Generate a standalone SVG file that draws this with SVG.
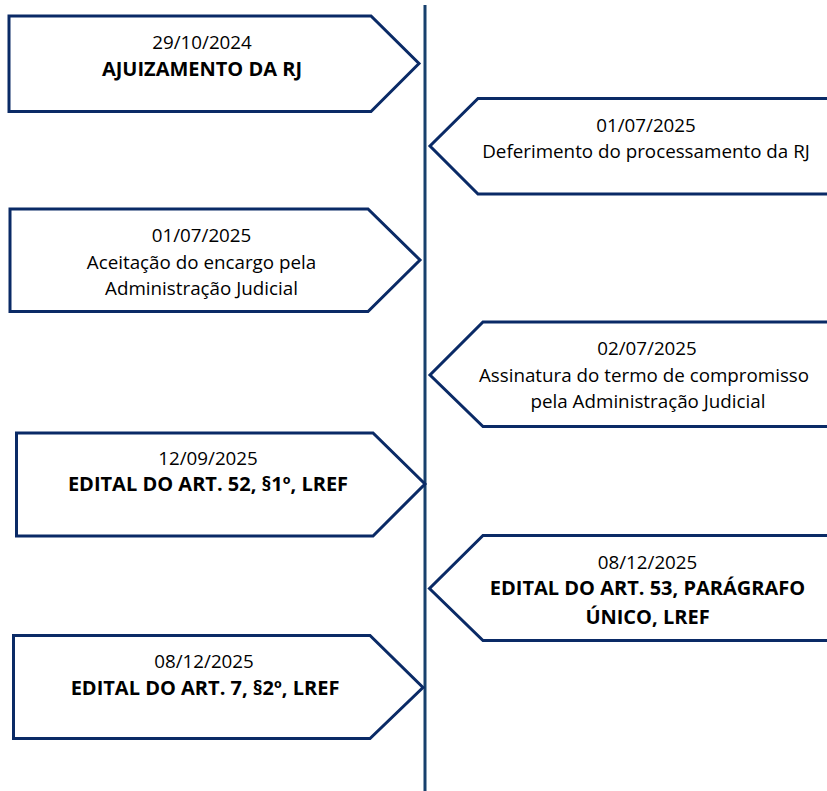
<svg xmlns="http://www.w3.org/2000/svg" width="827" height="791" viewBox="0 0 827 791">
<style>
.box{fill:#ffffff;stroke:#0A2A66;stroke-width:3;stroke-linejoin:miter}
.axis{stroke:#17406D;stroke-width:3;fill:none}
text{font-family:"Open Sans","Noto Sans","DejaVu Sans",sans-serif;font-size:18.8px;fill:#000000;text-anchor:middle}
.b{font-weight:bold;font-size:20px}
</style>
<rect width="827" height="791" fill="#ffffff"/>
<g id="connectors">
<line class="axis" x1="425" y1="5" x2="425" y2="791"/>
</g>
<g id="n1">
<polygon class="box" points="9,16 371,16 419,63.5 371,111.5 9,111.5"/>
<text x="202" y="49">29/10/2024</text>
<text class="b" x="202" y="76">AJUIZAMENTO DA RJ</text>
</g>
<g id="n2">
<polygon class="box" points="832,98.5 478,98.5 430,146 478,194 832,194"/>
<text x="646" y="131.5">01/07/2025</text>
<text x="646" y="157.5">Deferimento do processamento da RJ</text>
</g>
<g id="n3">
<polygon class="box" points="10,209 368,209 420,260 368,311.5 10,311.5"/>
<text x="201.5" y="241.5">01/07/2025</text>
<text x="201.5" y="269">Aceitação do encargo pela</text>
<text x="201.5" y="295">Administração Judicial</text>
</g>
<g id="n4">
<polygon class="box" points="832,322 483,322 430,375 483,426.5 832,426.5"/>
<text x="647" y="355">02/07/2025</text>
<text x="644" y="381.5">Assinatura do termo de compromisso</text>
<text x="648" y="408">pela Administração Judicial</text>
</g>
<g id="n5">
<polygon class="box" points="16.5,433 373,433 425,484 373,536 16.5,536"/>
<text x="208" y="465">12/09/2025</text>
<text class="b" x="208" y="491">EDITAL DO ART. 52, §1º, LREF</text>
</g>
<g id="n6">
<polygon class="box" points="832,535.5 483,535.5 429.5,588.5 483,640.5 832,640.5"/>
<text x="647.5" y="569">08/12/2025</text>
<text class="b" x="647.5" y="595">EDITAL DO ART. 53, PARÁGRAFO</text>
<text class="b" x="647.5" y="624">ÚNICO, LREF</text>
</g>
<g id="n7">
<polygon class="box" points="13.5,635.5 370,635.5 423,687.5 370,738.5 13.5,738.5"/>
<text x="204" y="668">08/12/2025</text>
<text class="b" x="205" y="695">EDITAL DO ART. 7, §2º, LREF</text>
</g>
</svg>
